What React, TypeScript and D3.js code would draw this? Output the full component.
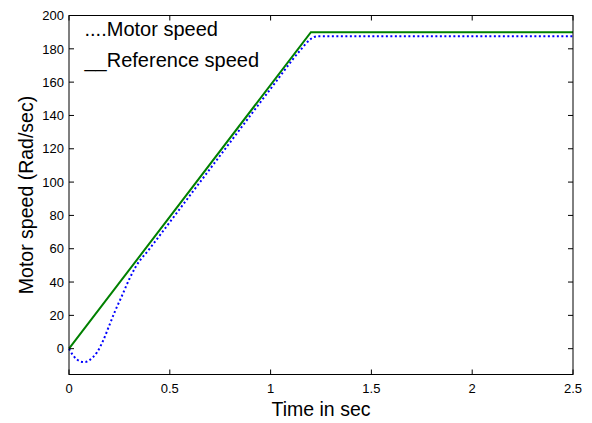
import React from "react";
import * as d3 from "d3";

const refTime = [0, 1.2, 2.5];
const refSpeed = [0, 190, 190];

const motorTime = [0, 0.02, 0.04, 0.06, 0.08, 0.1, 0.12, 0.14, 0.17, 0.2, 0.23, 0.26, 0.3, 0.33, 0.4, 0.6, 0.8, 1.0, 1.15, 1.2, 1.23, 1.26, 1.3, 2.5];
const motorSpeed = [0, -4, -6.5, -7.8, -8, -7, -5, -2, 5, 14, 23, 31, 42, 49, 60, 92, 124, 156, 179.5, 186, 187.5, 187.5, 187.5, 187.5];

const xTicks = [0, 0.5, 1, 1.5, 2, 2.5];
const yTicks = [0, 20, 40, 60, 80, 100, 120, 140, 160, 180, 200];

const legendLabels = ["....Motor speed", "__Reference speed"];

export default function App() {
  const W = 592, H = 423;
  const L = 69, R = 573, T = 15.5, B = 374.5;
  const x = d3.scaleLinear().domain([0, 2.5]).range([L, R]);
  const y = d3.scaleLinear().domain([-15.5, 200]).range([B, T]);
  const font = "Liberation Sans, Arial, sans-serif";

  const line = d3.line<[number, number]>().x(d => x(d[0])).y(d => y(d[1]));
  const refPts = refTime.map((t, i) => [t, refSpeed[i]] as [number, number]);
  const motPts = motorTime.map((t, i) => [t, motorSpeed[i]] as [number, number]);
  const motLine = d3.line<[number, number]>().x(d => x(d[0])).y(d => y(d[1])).curve(d3.curveMonotoneX);

  return (
    <svg width={W} height={H} style={{ position: "absolute", left: 0, top: 0, background: "#fff" }}>
      <rect x={0} y={0} width={W} height={H} fill="#fff" />
      <path d={line(refPts) || ""} fill="none" stroke="#008000" strokeWidth={2} />
      <path d={motLine(motPts) || ""} fill="none" stroke="#0000ff" strokeWidth={2} strokeDasharray="2,2.5" />
      <rect x={L} y={T} width={R - L} height={B - T} fill="none" stroke="#000" strokeWidth={1} />
      {xTicks.map(t => (
        <g key={"x" + t}>
          <line x1={x(t)} x2={x(t)} y1={B} y2={B - 5} stroke="#000" />
          <line x1={x(t)} x2={x(t)} y1={T} y2={T + 5} stroke="#000" />
          <text x={x(t)} y={B + 18.5} textAnchor="middle" fontFamily={font} fontSize={13} fill="#000">{t}</text>
        </g>
      ))}
      {yTicks.map(v => (
        <g key={"y" + v}>
          <line x1={L} x2={L + 5} y1={y(v)} y2={y(v)} stroke="#000" />
          <line x1={R} x2={R - 5} y1={y(v)} y2={y(v)} stroke="#000" />
          <text x={L - 5} y={y(v) + 4.7} textAnchor="end" fontFamily={font} fontSize={13} fill="#000">{v}</text>
        </g>
      ))}
      <text x={(L + R) / 2} y={415.5} textAnchor="middle" fontFamily={font} fontSize={19.5} fill="#000">Time in sec</text>
      <text transform={`translate(32.5,${(T + B) / 2}) rotate(-90)`} textAnchor="middle" fontFamily={font} fontSize={19.5} fill="#000">Motor speed (Rad/sec)</text>
      <text x={84.5} y={36} fontFamily={font} fontSize={20} fill="#000">{legendLabels[0]}</text>
      <text x={84.5} y={66.7} fontFamily={font} fontSize={20} fill="#000">{legendLabels[1]}</text>
    </svg>
  );
}
